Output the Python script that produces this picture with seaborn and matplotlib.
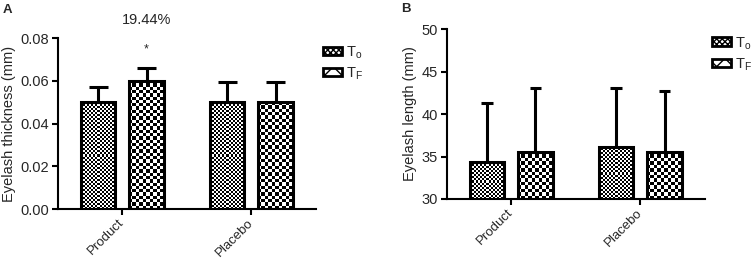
import numpy as np
import pandas as pd
import matplotlib
matplotlib.use('Agg')
import matplotlib.pyplot as plt
import seaborn as sns
from matplotlib.patches import Patch

groups = ['Product', 'Placebo']
times = ['T0', 'TF']
time_labels = ['T$_\\mathregular{o}$', 'T$_\\mathregular{F}$']

# panel A - eyelash thickness (mm)
thick_t0 = [0.050, 0.050]
thick_tf = [0.060, 0.050]
thick_sd_t0 = [0.007, 0.0095]
thick_sd_tf = [0.0062, 0.0095]

# panel B - eyelash length (mm)
len_t0 = [34.35, 36.15]
len_tf = [35.55, 35.55]
len_sd_t0 = [6.95, 6.9]
len_sd_tf = [7.55, 7.2]

sns.set_style('white')
plt.rcParams['font.family'] = ['Liberation Sans', 'DejaVu Sans']

fig = plt.figure(figsize=(7.52, 2.59), dpi=100)
axA = fig.add_axes([0.0771, 0.193, 0.343, 0.660])
axB = fig.add_axes([0.594, 0.2317, 0.3435, 0.656])

cell_px = [2.0, 3.3]
fs = 10.5


def panel(ax, t0, tf, sd0, sdf, ylim, yticks, fmt, ylabel, cap_w):
    df = pd.DataFrame({'group': groups * 2,
                       'time': [times[0]] * 2 + [times[1]] * 2,
                       'value': t0 + tf})
    sns.barplot(data=df, x='group', y='value', hue='time', order=groups,
                hue_order=times, errorbar=None, width=0.75, gap=0.29,
                palette=['white', 'white'], edgecolor='black', linewidth=2.2,
                legend=False, ax=ax)
    ax.set_xlim(-0.5, 1.5)
    ax.set_ylim(*ylim)
    fig.canvas.draw()
    sds = [sd0, sdf]
    for k, cont in enumerate(ax.containers):
        for j, p in enumerate(cont.patches):
            x0, w = p.get_x(), p.get_width()
            top = p.get_y() + p.get_height()
            y0 = max(p.get_y(), ylim[0])
            (px0, py0) = ax.transData.transform((x0, y0))
            (px1, py1) = ax.transData.transform((x0 + w, top))
            nx = max(1, int(round((px1 - px0) / cell_px[k])))
            ny = max(1, int(round((py1 - py0) / cell_px[k])))
            ii, jj = np.indices((ny, nx))
            chk = ((ii + jj) % 2).astype(float)
            im = ax.imshow(chk, extent=(x0, x0 + w, y0, top), cmap='gray',
                           vmin=0, vmax=1, interpolation='nearest',
                           aspect='auto', zorder=1.5)
            im.set_clip_path(p)
            p.set_facecolor('none')
            p.set_zorder(2)
            xc = x0 + w / 2
            etop = top + sds[k][j]
            ax.plot([xc, xc], [top, etop], color='black', lw=2.2, zorder=1.8,
                    solid_capstyle='butt')
            ax.plot([xc - cap_w / 2, xc + cap_w / 2], [etop, etop],
                    color='black', lw=2.2, zorder=1.8, solid_capstyle='butt')
    ax.set_xlim(-0.5, 1.5)
    ax.set_ylim(*ylim)
    ax.set_yticks(yticks)
    ax.set_yticklabels([fmt.format(v) for v in yticks], fontsize=fs)
    ax.set_xticks([0, 1])
    ax.set_xticklabels(groups, rotation=45, ha='right', va='center',
                       rotation_mode='anchor', fontsize=9.5)
    ax.set_xlabel('')
    ax.set_ylabel(ylabel, fontsize=fs, labelpad=3)
    for s in ['top', 'right']:
        ax.spines[s].set_visible(False)
    for s in ['left', 'bottom']:
        ax.spines[s].set_color('black')
        ax.spines[s].set_linewidth(1.5)
    ax.tick_params(axis='both', direction='out', length=4, width=1.5,
                   color='black', bottom=True, left=True, pad=2.5)
    ax.tick_params(axis='x', pad=4.5)
    handles = [Patch(facecolor='white', edgecolor='black', hatch='xxxxxx', lw=2),
               Patch(facecolor='white', edgecolor='black', hatch='xx', lw=2)]
    ax.legend(handles, time_labels, loc='upper left',
              bbox_to_anchor=(1.027, 0.965), frameon=False, fontsize=fs,
              handlelength=1.3, handleheight=0.55, labelspacing=0.3,
              handletextpad=0.3, borderpad=0, borderaxespad=0)


panel(axA, thick_t0, thick_tf, thick_sd_t0, thick_sd_tf, (0, 0.08),
      [0, 0.02, 0.04, 0.06, 0.08], '{:.2f}', 'Eyelash thickness (mm)', 0.15)
panel(axB, len_t0, len_tf, len_sd_t0, len_sd_tf, (30, 50),
      [30, 35, 40, 45, 50], '{:.0f}', 'Eyelash length (mm)', 0.09)

# significance annotation over Product T_F
pA = axA.containers[1].patches[0]
xs = pA.get_x() + pA.get_width() / 2
axA.annotate('*', (xs, thick_tf[0] + thick_sd_tf[0]), xytext=(0, 9),
             textcoords='offset points', ha='center', va='bottom', fontsize=9)
axA.annotate('19.44%', (xs, 0.08), xytext=(0, 8), textcoords='offset points',
             ha='center', va='bottom', fontsize=10.5, annotation_clip=False)

fig.text(0.003, 0.985, 'A', fontsize=9.5, fontweight='bold', va='top')
fig.text(0.533, 0.988, 'B', fontsize=9.5, fontweight='bold', va='top')

fig.savefig('out.png', dpi=100)
